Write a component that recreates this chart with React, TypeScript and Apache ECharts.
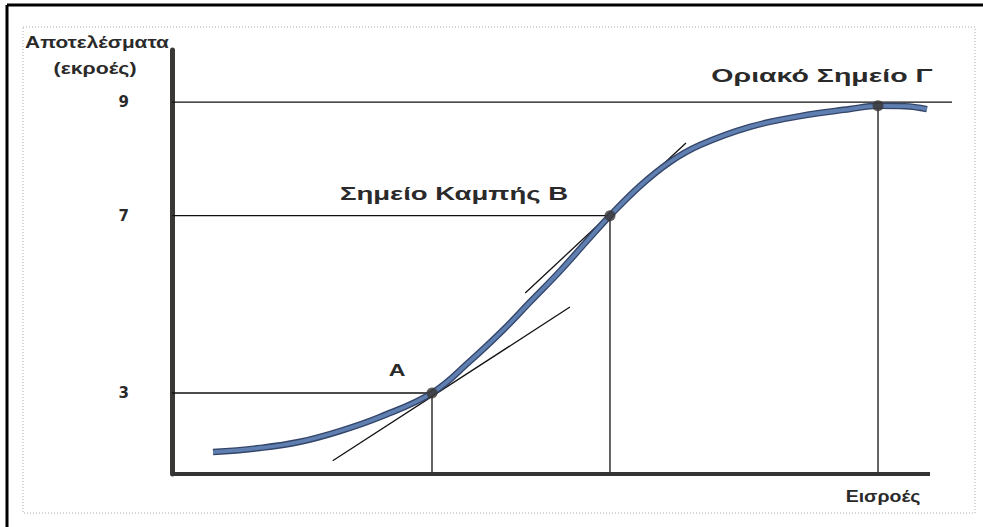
import React, { useEffect, useRef } from "react";
import * as echarts from "echarts";

// Curve (x in input units, y in display units of the drawing)
const curveX = [5.41, 11.61, 16.89, 22.16, 27.44, 34.3, 39.31, 43.67, 47.23, 51.19, 54.75, 57.78, 61.74, 65.7, 69.66, 76.25, 82.85, 89.45, 93.14, 96.7, 99.6];
const curveY = [0.53, 0.63, 0.78, 1.04, 1.38, 1.96, 2.73, 3.48, 4.16, 4.91, 5.64, 6.25, 6.97, 7.55, 7.96, 8.4, 8.66, 8.83, 8.91, 8.9, 8.83];

// Key points
const pointNames = ["Α", "Σημείο Καμπής Β", "Οριακό Σημείο Γ"];
const pointX = [34.3, 57.78, 93.14];
const pointY = [1.96, 6.25, 8.91];

// Output levels on the y axis (labels and where they sit)
const levelLabels = ["3", "7", "9"];
const levelPositions = [1.96, 6.25, 9.0];
const levelLineEnd = [34.3, 57.78, 102.9];

// Input axis extent
const xAxisEnd = 100;
const xMax = 102.9;

// Tangent lines at A and B
const tangentA = [[21.2, 0.32], [52.5, 4.04]];
const tangentB = [[46.6, 4.38], [67.8, 8.01]];

const TEXT = "#2a2a2a";
const FONT = "Liberation Sans, Arial, sans-serif";

export default function App() {
  const ref = useRef<HTMLDivElement>(null);
  useEffect(() => {
    if (!ref.current) return;
    const chart = echarts.init(ref.current, null, { renderer: "svg" });

    const guideSeries: any[] = [];
    levelPositions.forEach((y, i) => {
      guideSeries.push({
        type: "line",
        data: [[0, y], [levelLineEnd[i], y]],
        symbol: "none",
        clip: false,
        lineStyle: { color: "#111", width: 1.3 },
        silent: true,
        z: 2,
      });
    });
    pointX.forEach((x, i) => {
      guideSeries.push({
        type: "line",
        data: [[x, 0], [x, pointY[i]]],
        symbol: "none",
        clip: false,
        lineStyle: { color: "#111", width: 1.3 },
        silent: true,
        z: 2,
      });
    });
    [tangentA, tangentB].forEach((t) => {
      guideSeries.push({
        type: "line",
        data: t,
        symbol: "none",
        lineStyle: { color: "#111", width: 1.3 },
        silent: true,
        z: 3,
      });
    });

    const curveData = curveX.map((x, i) => [x, curveY[i]]);

    const texts: any[] = [
      { text: "Αποτελέσματα", x: 97, y: 42, size: 16, sx: 1.3 },
      { text: "(εκροές)", x: 95, y: 68, size: 16, sx: 1.33 },
      { text: "Οριακό Σημείο Γ", x: 822, y: 75, size: 19, sx: 1.5 },
      { text: "Σημείο Καμπής Β", x: 454, y: 194, size: 19, sx: 1.45 },
      { text: "Α", x: 397, y: 370, size: 16, sx: 1.45 },
      { text: "Εισροές", x: 883, y: 497, size: 16, sx: 1.22 },
    ];

    chart.setOption({
      animation: false,
      backgroundColor: "#fff",
      grid: { left: 172, top: 50, width: 780, height: 424 },
      xAxis: {
        type: "value",
        min: 0,
        max: xMax,
        axisLine: { show: false },
        axisTick: { show: false },
        axisLabel: { show: false },
        splitLine: { show: false },
      },
      yAxis: {
        type: "value",
        min: 0,
        max: 10.26,
        axisLine: { show: true, lineStyle: { color: "#3a3737", width: 5 } },
        axisTick: { show: false },
        splitLine: { show: false },
        axisLabel: {
          customValues: levelPositions,
          formatter: (v: number) => {
            const i = levelPositions.findIndex((p) => Math.abs(p - v) < 1e-6);
            return i >= 0 ? levelLabels[i] : "";
          },
          margin: 43,
          color: TEXT,
          fontFamily: "DejaVu Sans, sans-serif",
          fontWeight: "bold",
          fontSize: 15,
        },
      },
      series: [
        {
          type: "line",
          data: [[0, 0], [xAxisEnd, 0]],
          symbol: "none",
          clip: false,
          lineStyle: { color: "#333", width: 4 },
          silent: true,
          z: 7,
        },
        ...guideSeries,
        {
          type: "line",
          data: curveData,
          smooth: 0.4,
          symbol: "none",
          lineStyle: { color: "#34456a", width: 6.5 },
          silent: true,
          z: 4,
        },
        {
          type: "line",
          data: curveData,
          smooth: 0.4,
          symbol: "none",
          lineStyle: { color: "#5f7fb0", width: 3.8 },
          silent: true,
          z: 5,
        },
        {
          type: "scatter",
          data: pointX.map((x, i) => ({ name: pointNames[i], value: [x, pointY[i]] })),
          symbol: "circle",
          symbolSize: 11,
          itemStyle: { color: "#3a3535" },
          z: 6,
        },
      ],
      graphic: [
        { type: "line", shape: { x1: 7, y1: 5, x2: 983, y2: 5 }, style: { stroke: "#000", lineWidth: 3 }, silent: true },
        { type: "line", shape: { x1: 7, y1: 5, x2: 7, y2: 527 }, style: { stroke: "#000", lineWidth: 3 }, silent: true },
        {
          type: "rect",
          shape: { x: 23, y: 27, width: 952, height: 486 },
          style: { fill: "none", stroke: "#aaa", lineWidth: 1, lineDash: [1, 2] },
          silent: true,
        },
        ...texts.map((t) => ({
          type: "text",
          x: t.x,
          y: t.y,
          scaleX: t.sx,
          silent: true,
          style: {
            text: t.text,
            font: `bold ${t.size}px ${FONT}`,
            fill: TEXT,
            textAlign: "center",
            textVerticalAlign: "middle",
          },
        })),
      ],
    });
    return () => chart.dispose();
  }, []);
  return (
    <div
      ref={ref}
      style={{ position: "absolute", left: 0, top: 0, width: 983, height: 527 }}
    />
  );
}
